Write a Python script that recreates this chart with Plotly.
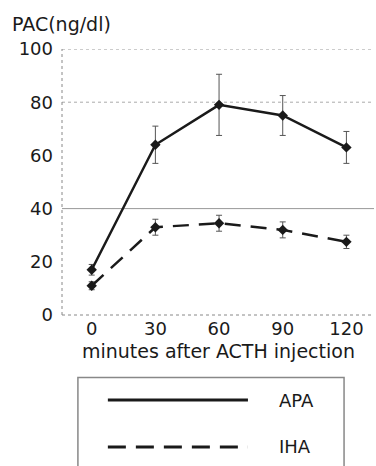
import plotly.graph_objects as go

minutes = [0, 30, 60, 90, 120]
apa = [17, 64, 79, 75, 63]
apa_err = [2, 7, 11.5, 7.5, 6]
iha = [11, 33, 34.5, 32, 27.5]
iha_err = [1.5, 3, 3, 3, 2.5]
y_ticks = [0, 20, 40, 60, 80, 100]
series_names = ["APA", "IHA"]

FONT = "DejaVu Sans, Liberation Sans, Arial, sans-serif"
INK = "#1a1a1a"
DASH = "16px,10px"

fig = go.Figure()
fig.add_trace(go.Scatter(
    x=minutes, y=apa, mode="lines+markers", name=series_names[0],
    line=dict(color=INK, width=2.5),
    marker=dict(symbol="diamond", size=8, color=INK),
    error_y=dict(type="data", array=apa_err, color="#555", thickness=1, width=3),
    showlegend=False))
fig.add_trace(go.Scatter(
    x=minutes, y=iha, mode="lines+markers", name=series_names[1],
    line=dict(color=INK, width=2.5, dash=DASH),
    marker=dict(symbol="diamond", size=8, color=INK),
    error_y=dict(type="data", array=iha_err, color="#555", thickness=1, width=3),
    showlegend=False))

# horizontal reference lines
for yv, dash, col in [(100, "dot", "#999"), (80, "dot", "#aaa"), (40, "solid", "#999")]:
    fig.add_shape(type="line", xref="paper", yref="y", x0=0, x1=1, y0=yv, y1=yv,
                  line=dict(color=col, width=1, dash=dash), layer="below")
# dotted axis lines
fig.add_shape(type="line", xref="paper", yref="paper", x0=0, x1=0, y0=0, y1=1,
              line=dict(color="#888", width=1, dash="dot"), layer="below")
fig.add_shape(type="line", xref="paper", yref="paper", x0=0, x1=1, y0=0, y1=0,
              line=dict(color="#888", width=1, dash="dot"), layer="below")

# legend box drawn manually
fig.add_shape(type="rect", xref="paper", yref="paper", x0=0.051, x1=0.904, y0=-0.62, y1=-0.235,
              line=dict(color="#888", width=1.5))
fig.add_shape(type="line", xref="paper", yref="paper", x0=0.147, x1=0.596, y0=-0.320, y1=-0.320,
              line=dict(color=INK, width=3))
fig.add_shape(type="line", xref="paper", yref="paper", x0=0.147, x1=0.596, y0=-0.496, y1=-0.496,
              line=dict(color=INK, width=3, dash="18px,10px"))
fig.add_annotation(xref="paper", yref="paper", x=0.69, y=-0.320, text=series_names[0],
                   showarrow=False, xanchor="left", yanchor="middle",
                   font=dict(family=FONT, size=18, color=INK))
fig.add_annotation(xref="paper", yref="paper", x=0.69, y=-0.496, text=series_names[1],
                   showarrow=False, xanchor="left", yanchor="middle",
                   font=dict(family=FONT, size=18, color=INK))
fig.add_annotation(xref="paper", yref="paper", x=-0.167, y=1.094, text="PAC(ng/dl)",
                   showarrow=False, xanchor="left", yanchor="middle",
                   font=dict(family=FONT, size=19, color=INK))
# x-axis title
fig.add_annotation(xref="paper", yref="paper", x=0.5, y=-0.134,
                   text="minutes after ACTH injection",
                   showarrow=False, xanchor="center", yanchor="middle",
                   font=dict(family=FONT, size=19, color=INK))

fig.update_layout(
    width=376, height=466,
    margin=dict(l=62, r=2, t=49, b=151),
    paper_bgcolor="white", plot_bgcolor="white",
    font=dict(family=FONT, size=18, color=INK),
    xaxis=dict(range=[-14, 133], tickvals=minutes, showgrid=False, zeroline=False,
               showline=False, ticks="", ticklabelstandoff=1),
    yaxis=dict(range=[0, 100], tickvals=y_ticks, showgrid=False, zeroline=False,
               showline=False, ticks="", ticklabelstandoff=8),
)
fig.write_html("out.html")
